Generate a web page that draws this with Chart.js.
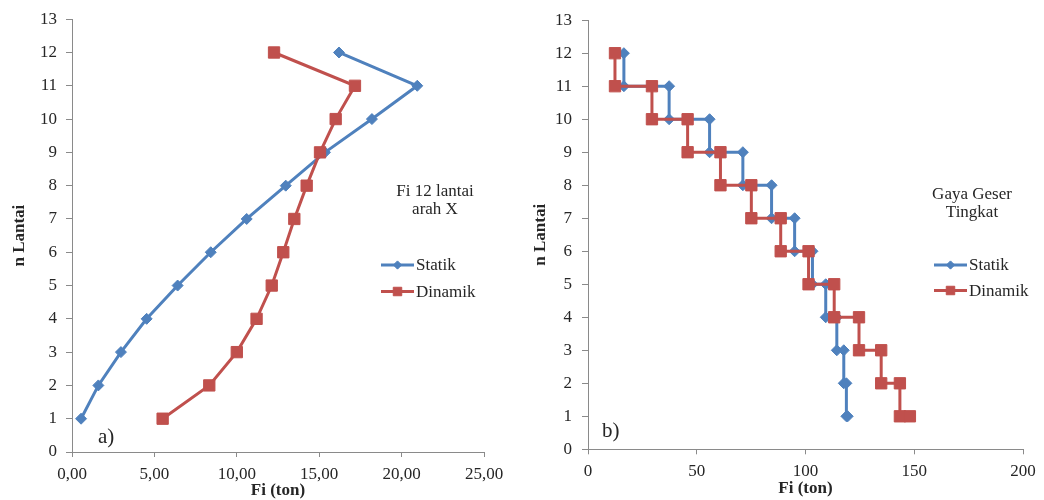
<!DOCTYPE html>
<html>
<head>
<meta charset="utf-8">
<script src="https://cdn.jsdelivr.net/npm/chart.js@4/dist/chart.umd.min.js"></script>
<style>
  html, body { margin: 0; padding: 0; background: #fff; }
  #wrap { width: 1044px; height: 500px; display: flex; }
  canvas { display: block; }
</style>
</head>
<body>
<div id="wrap">
  <canvas id="chartA" width="522" height="500"></canvas>
  <canvas id="chartB" width="522" height="500"></canvas>
</div>
<script>
// lantai (floor) levels
const levels = [1, 2, 3, 4, 5, 6, 7, 8, 9, 10, 11, 12];
// a) gaya lateral Fi per lantai (ton), lantai 1..12
const fiStatik = [0.55, 1.6, 2.97, 4.53, 6.41, 8.42, 10.6, 12.97, 15.35, 18.2, 20.95, 16.2];
const fiDinamik = [5.5, 8.33, 10.0, 11.2, 12.12, 12.82, 13.49, 14.24, 15.05, 16.0, 17.17, 12.26];

// b) gaya geser tingkat (ton), lantai 12 turun ke 1
const levelsDown = [12, 11, 10, 9, 8, 7, 6, 5, 4, 3, 2, 1];
const geserStatik = [16.5, 37.3, 55.9, 71.2, 84.4, 95.0, 103.2, 109.3, 114.4, 117.6, 118.8, 119.4];
const geserDinamik = [12.4, 29.4, 45.8, 60.9, 75.1, 88.6, 101.4, 113.2, 124.6, 134.8, 143.4, 148.0];

const xTicksA = [0, 5, 10, 15, 20, 25];
const xTicksB = [0, 50, 100, 150, 200];

const BLUE = "#4F81BD";
const RED = "#C0504D";
const AXIS = "#8a8a8a";
const TEXT = "#262626";

Chart.defaults.font.family = "'Liberation Serif', 'Times New Roman', serif";
Chart.defaults.font.size = 17;
Chart.defaults.color = TEXT;

function pairs(xs, ys) {
  return xs.map((v, i) => ({ x: v, y: ys[i] }));
}

// story shear drawn as steps: (V,i) -> (V,i-1) -> (Vnext,i-1) ...
function stepPoints(shear) {
  const pts = [];
  shear.forEach((v, i) => {
    const lvl = levelsDown[i];
    pts.push({ x: v, y: lvl });
    if (lvl > 1) pts.push({ x: v, y: lvl - 1 });
  });
  return pts;
}

// legend + notes drawn inside the plot
const overlay = {
  id: "overlay",
  afterDatasetsDraw(chart, args, opts) {
    const ctx = chart.ctx;
    ctx.save();
    ctx.font = "17px 'Liberation Serif', serif";
    ctx.textBaseline = "middle";
    chart.data.datasets.forEach((ds, i) => {
      const x = opts.legendX;
      const y = opts.legendY + i * opts.legendGap;
      ctx.strokeStyle = ds.borderColor;
      ctx.lineWidth = 3;
      ctx.beginPath();
      ctx.moveTo(x, y);
      ctx.lineTo(x + 33, y);
      ctx.stroke();
      ctx.fillStyle = ds.backgroundColor;
      ctx.lineWidth = 1;
      Chart.helpers.drawPoint(ctx, {
        pointStyle: ds.pointStyle,
        radius: ds.pointRadius * 0.75,
        rotation: 0,
        borderWidth: 1
      }, x + 16.5, y);
      ctx.fillStyle = TEXT;
      ctx.textAlign = "left";
      ctx.fillText(ds.label, x + 35, y + 1);
    });
    opts.notes.forEach(n => {
      ctx.font = n.font || "17px 'Liberation Serif', serif";
      ctx.textAlign = n.align || "center";
      ctx.fillStyle = TEXT;
      ctx.fillText(n.text, n.x, n.y);
    });
    ctx.restore();
  }
};

function makeChart(id, cfg) {
  return new Chart(document.getElementById(id), {
    type: "scatter",
    data: {
      datasets: [
        {
          label: "Statik",
          data: cfg.statik,
          showLine: true,
          borderColor: BLUE,
          backgroundColor: BLUE,
          borderWidth: 3,
          pointStyle: "rectRot",
          pointRadius: 5.5,
          pointBorderWidth: 1,
          tension: 0,
          order: 1
        },
        {
          label: "Dinamik",
          data: cfg.dinamik,
          showLine: true,
          borderColor: RED,
          backgroundColor: RED,
          borderWidth: 3,
          pointStyle: "rect",
          pointRadius: 8,
          pointBorderWidth: 1,
          tension: 0,
          order: 0
        }
      ]
    },
    options: {
      responsive: false,
      animation: false,
      layout: { padding: cfg.padding },
      plugins: {
        legend: { display: false },
        tooltip: { enabled: false },
        overlay: cfg.overlay
      },
      scales: {
        x: {
          type: "linear",
          min: cfg.xTicks[0],
          max: cfg.xTicks[cfg.xTicks.length - 1],
          afterBuildTicks: s => { s.ticks = cfg.xTicks.map(v => ({ value: v })); },
          afterFit: s => { s.height = cfg.xHeight; },
          ticks: {
            padding: cfg.xPad,
            maxRotation: 0,
            callback: cfg.xFormat
          },
          grid: { drawOnChartArea: false, drawTicks: true, tickLength: 5, color: AXIS },
          border: { color: AXIS, width: 1 },
          title: {
            display: true,
            text: "Fi (ton)",
            font: { weight: "bold", size: 17, lineHeight: 1 },
            padding: { top: 0, bottom: cfg.xTitlePad }
          }
        },
        y: {
          type: "linear",
          min: 0,
          max: 13,
          afterBuildTicks: s => { s.ticks = [0, ...levels, 13].map(v => ({ value: v })); },
          afterFit: s => { s.width = cfg.yWidth; },
          ticks: { padding: cfg.yPad },
          grid: { drawOnChartArea: false, drawTicks: true, tickLength: 6, color: AXIS },
          border: { color: AXIS, width: 1 },
          title: {
            display: true,
            text: "n Lantai",
            font: { weight: "bold", size: 17 },
            padding: { top: cfg.yTitlePad, bottom: 0 }
          }
        }
      }
    },
    plugins: [overlay]
  });
}

makeChart("chartA", {
  statik: pairs(fiStatik, levels),
  dinamik: pairs(fiDinamik, levels),
  xTicks: xTicksA,
  xFormat: v => v.toFixed(2).replace(".", ","),
  padding: { top: 19, right: 38, bottom: 0, left: 0 },
  xHeight: 48,
  xPad: 7,
  xTitlePad: 0.5,
  yWidth: 72,
  yPad: 9,
  yTitlePad: 9,
  overlay: {
    legendX: 381, legendY: 265, legendGap: 26.5,
    notes: [
      { text: "Fi 12 lantai", x: 435, y: 192 },
      { text: "arah X", x: 435, y: 209.5 },
      { text: "a)", x: 98, y: 437, align: "left", font: "21px 'Liberation Serif', serif" }
    ]
  }
});

makeChart("chartB", {
  statik: stepPoints(geserStatik),
  dinamik: stepPoints(geserDinamik),
  xTicks: xTicksB,
  xFormat: v => String(v),
  padding: { top: 17, right: 21, bottom: 0, left: 0 },
  xHeight: 50.7,
  xPad: 7,
  xTitlePad: 2.5,
  yWidth: 66,
  yPad: 10,
  yTitlePad: 8,
  overlay: {
    legendX: 412, legendY: 265, legendGap: 25.5,
    notes: [
      { text: "Gaya Geser", x: 450, y: 195 },
      { text: "Tingkat", x: 450, y: 212.5 },
      { text: "b)", x: 80, y: 431, align: "left", font: "21px 'Liberation Serif', serif" }
    ]
  }
});
</script>
</body>
</html>
